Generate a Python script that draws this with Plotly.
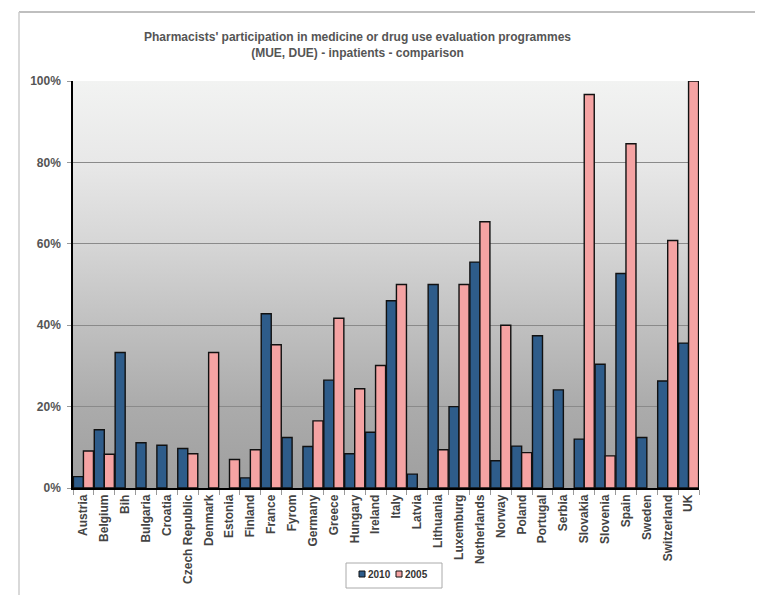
import base64
import plotly.graph_objects as go

countries = ["Austria", "Belgium", "Bih", "Bulgaria", "Croatia", "Czech Republic", "Denmark",
             "Estonia", "Finland", "France", "Fyrom", "Germany", "Greece", "Hungary", "Ireland",
             "Italy", "Latvia", "Lithuania", "Luxemburg", "Netherlands", "Norway", "Poland",
             "Portugal", "Serbia", "Slovakia", "Slovenia", "Spain", "Sweden", "Switzerland", "UK"]

values_2010 = [2.8, 14.3, 33.3, 11.1, 10.5, 9.7, None, None, 2.5, 42.8, 12.4, 10.2, 26.5, 8.4, 13.7,
               46.0, 3.4, 50.0, 20.0, 55.5, 6.7, 10.3, 37.4, 24.1, 12.0, 30.4, 52.7, 12.4, 26.3, 35.6]

values_2005 = [9.1, 8.3, None, None, None, 8.4, 33.3, 7.0, 9.4, 35.2, None, 16.5, 41.7, 24.4, 30.1,
               50.0, None, 9.4, 50.0, 65.4, 40.0, 8.7, None, None, 96.7, 7.9, 84.6, None, 60.8, 100.0]

y_ticks = [0, 20, 40, 60, 80, 100]

series_names = ["2010", "2005"]
series_colors = ["#2E5C8A", "#F5A3A3"]

# page body adds an 8px offset; figure is sized so it fills the window
OFF = 8
W, H = 763 - OFF, 595 - OFF
PL, PR, PT, PB = 73, 699, 81, 488  # plot area in window pixels
L, T = PL - OFF, PT - OFF
R, B = W - (PR - OFF), H - (PB - OFF)
pw, ph = PR - PL, PB - PT


def px(xabs):
    return (xabs - PL) / pw


def py(yabs):
    return (PB - yabs) / ph


svg = ('<svg xmlns="http://www.w3.org/2000/svg" width="100" height="100" preserveAspectRatio="none">'
       '<defs><linearGradient id="g" x1="0" y1="0" x2="0" y2="1">'
       '<stop offset="0" stop-color="#f2f3f2"/>'
       '<stop offset="0.2" stop-color="#e8e8e8"/>'
       '<stop offset="0.4" stop-color="#d6d6d6"/>'
       '<stop offset="0.6" stop-color="#c0c0c0"/>'
       '<stop offset="0.8" stop-color="#ababab"/>'
       '<stop offset="1" stop-color="#9f9f9f"/>'
       '</linearGradient></defs>'
       '<rect x="0" y="0" width="100" height="100" fill="url(#g)"/></svg>')
src = "data:image/svg+xml;base64," + base64.b64encode(svg.encode()).decode()

font = "Liberation Sans, Arial, sans-serif"

fig = go.Figure()
for name, vals, col in zip(series_names, [values_2010, values_2005], series_colors):
    fig.add_trace(go.Bar(x=countries, y=vals, name=name, showlegend=False,
                         marker=dict(color=col, line=dict(color="#111111", width=1.4))))

fig.update_layout(
    width=W, height=H,
    margin=dict(l=L, r=R, t=T, b=B, pad=0, autoexpand=False),
    paper_bgcolor="white",
    plot_bgcolor="rgba(0,0,0,0)",
    barmode="group", bargap=0.04, bargroupgap=0,
    font=dict(family=font, color="#444444"),
    title=dict(text="<b>Pharmacists' participation in medicine or drug use evaluation programmes<br>(MUE, DUE) - inpatients - comparison</b>",
               x=px(357.5), xref="paper", xanchor="center",
               y=1 - (41 - OFF) / H, yref="container", yanchor="middle",
               font=dict(size=12, color="#555555", family=font)),
    xaxis=dict(tickangle=-90, tickmode="array", tickvals=countries,
               ticktext=[f"<b>{c}</b>" for c in countries],
               tickfont=dict(size=12, color="#444444"),
               showline=True, linecolor="black", linewidth=1.5,
               ticks="outside", tickson="boundaries", ticklen=5, tickcolor="#999999",
               showgrid=False, automargin=False),
    yaxis=dict(range=[0, 100], tickvals=y_ticks, ticktext=[f"<b>{v}%</b>" for v in y_ticks],
               tickfont=dict(size=12, color="#555555"),
               showline=True, linecolor="black", linewidth=1.5,
               ticks="outside", ticklen=4, tickcolor="#999999", ticklabelstandoff=4,
               showgrid=True, gridcolor="#8a8a8a", gridwidth=1, zeroline=False, automargin=False),
    images=[dict(source=src, xref="x domain", yref="y domain", x=0, y=1, sizex=1, sizey=1,
                 xanchor="left", yanchor="top", sizing="stretch", layer="below")],
)

# outer frame (top and left)
fig.add_shape(type="line", xref="paper", yref="paper",
              x0=px(19), x1=px(800), y0=py(12), y1=py(12),
              line=dict(color="#aaaaaa", width=1.5))
fig.add_shape(type="line", xref="paper", yref="paper",
              x0=px(19), x1=px(19), y0=py(12), y1=py(600),
              line=dict(color="#cccccc", width=1.5))

# legend box
fig.add_shape(type="rect", xref="paper", yref="paper",
              x0=px(346), x1=px(442), y0=py(563), y1=py(588),
              line=dict(color="#aaaaaa", width=1), fillcolor="white")
legend_sq_x = [359, 396]
for name, col, sx in zip(series_names, series_colors, legend_sq_x):
    fig.add_shape(type="rect", xref="paper", yref="paper",
                  x0=px(sx), x1=px(sx + 6), y0=py(571), y1=py(577),
                  line=dict(color="#111111", width=1), fillcolor=col)
    fig.add_annotation(xref="paper", yref="paper", x=px(sx + 7), y=py(574.5),
                       xanchor="left", yanchor="middle", showarrow=False,
                       text=f"<b>{name}</b>", font=dict(size=10, color="#333333"))

fig.write_html("out.html")
